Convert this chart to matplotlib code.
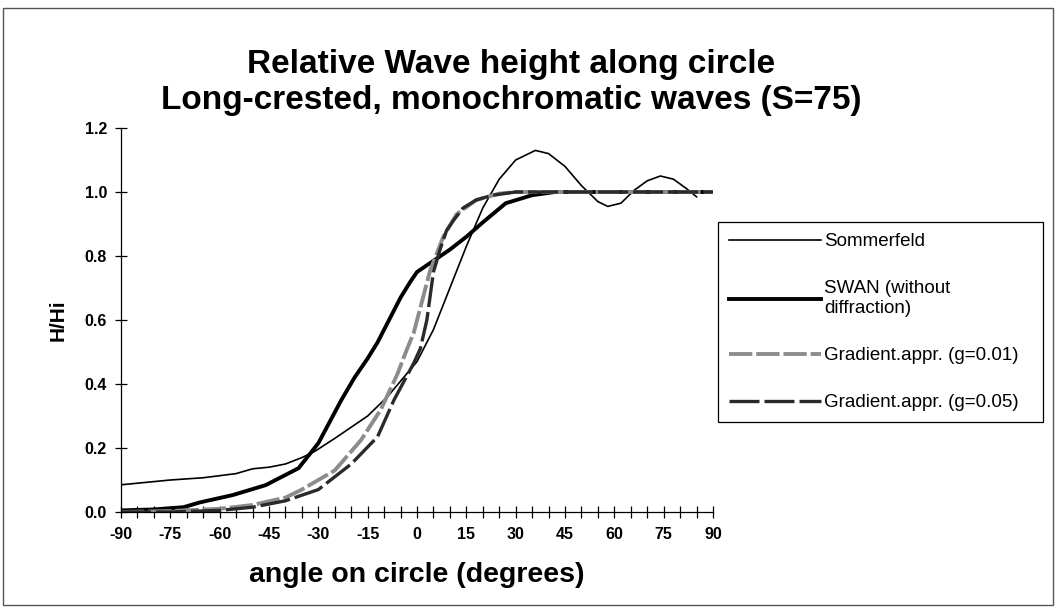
import matplotlib
matplotlib.use("Agg")
import matplotlib.pyplot as plt
from matplotlib.patches import Rectangle
from matplotlib.ticker import MultipleLocator, FormatStrFormatter

plt.rcParams['font.family'] = ['Liberation Sans', 'DejaVu Sans']
plt.rcParams['axes.unicode_minus'] = False

# Sommerfeld (analytisch)
som_x = [-90, -80, -75, -65, -55, -50, -45, -40, -35, -31, -25, -15, -9, 0, 5, 10, 15, 20,
         25, 30, 36, 40, 45, 50, 55, 58, 62, 66, 70, 74, 78, 82, 85]
som_y = [0.085, 0.095, 0.10, 0.107, 0.12, 0.135, 0.14, 0.15, 0.17, 0.19, 0.23, 0.30, 0.36, 0.47,
         0.57, 0.70, 0.83, 0.95, 1.04, 1.10, 1.13, 1.12, 1.08, 1.02, 0.97, 0.955, 0.965, 1.005,
         1.035, 1.05, 1.04, 1.01, 0.985]

# SWAN (without diffraction)
swan_x = [-90, -80, -71, -66, -56, -46, -36, -30, -23, -19, -15, -12, -8, -5, -2, 0, 5, 10,
          15, 20, 27, 35, 42, 90]
swan_y = [0.005, 0.008, 0.015, 0.03, 0.053, 0.084, 0.137, 0.215, 0.35, 0.42, 0.48, 0.53, 0.61,
          0.67, 0.72, 0.75, 0.785, 0.82, 0.86, 0.905, 0.965, 0.99, 1.0, 1.0]

# Gradient approx, g=0.01
g01_x = [-90, -75, -60, -50, -40, -35, -25, -17, -11, -6, -3, -1, 4, 8, 12, 18, 25, 30, 90]
g01_y = [0.0, 0.003, 0.01, 0.022, 0.045, 0.07, 0.13, 0.225, 0.32, 0.43, 0.51, 0.56, 0.755,
         0.86, 0.93, 0.975, 0.995, 1.0, 1.0]

# Gradient approx, g=0.05
g05_x = [-90, -75, -60, -50, -40, -30, -20, -12, -7, -1, 1, 3, 5, 7, 9, 11, 14, 18, 23, 30, 90]
g05_y = [0.0, 0.0, 0.005, 0.015, 0.035, 0.07, 0.15, 0.235, 0.35, 0.465, 0.51, 0.60, 0.75,
         0.82, 0.88, 0.91, 0.95, 0.975, 0.99, 1.0, 1.0]

W, H = 1057, 609
fig = plt.figure(figsize=(W / 100, H / 100), dpi=100)
ax = fig.add_axes([121 / W, 1 - 512 / H, (713 - 121) / W, (512 - 128) / H])

ax.plot(som_x, som_y, color='black', lw=1.2, label='Sommerfeld')
ax.plot(swan_x, swan_y, color='black', lw=2.8, label='SWAN (without\ndiffraction)')
ax.plot(g01_x, g01_y, color='#8c8c8c', lw=2.8, linestyle=(0, (6, 1)),
        label='Gradient.appr. (g=0.01)')
ax.plot(g05_x, g05_y, color='#2a2a2a', lw=2.4, linestyle=(0, (9, 1.5)),
        label='Gradient.appr. (g=0.05)')

ax.set_xlim(-90, 90)
ax.set_ylim(0, 1.2)
ax.xaxis.set_major_locator(MultipleLocator(15))
ax.xaxis.set_minor_locator(MultipleLocator(5))
ax.yaxis.set_major_locator(MultipleLocator(0.2))
ax.yaxis.set_major_formatter(FormatStrFormatter('%.1f'))
ax.tick_params(axis='both', which='both', direction='inout', width=0.9, colors='black')
ax.tick_params(axis='x', which='major', length=8, pad=7)
ax.tick_params(axis='x', which='minor', length=8)
ax.tick_params(axis='y', which='major', length=8, pad=6)
for lab in ax.get_xticklabels() + ax.get_yticklabels():
    lab.set_fontweight('bold')
    lab.set_fontsize(11.5)
for s in ['top', 'right']:
    ax.spines[s].set_visible(False)
for s in ['left', 'bottom']:
    ax.spines[s].set_linewidth(0.9)

ax.set_xlabel('angle on circle (degrees)', fontsize=20.5, fontweight='bold', labelpad=14)
ax.set_ylabel('H/Hi', fontsize=15, fontweight='bold', labelpad=12)

fig.text(511 / W, 1 - 64 / H, 'Relative Wave height along circle', ha='center', va='center',
         fontsize=24, fontweight='bold')
fig.text(511 / W, 1 - 100 / H, 'Long-crested, monochromatic waves (S=75)', ha='center',
         va='center', fontsize=24, fontweight='bold')

leg = fig.legend(loc='upper left',
                 bbox_to_anchor=(718 / W, 1 - 420 / H, (1043 - 718) / W, (420 - 222) / H),
                 mode='expand', borderaxespad=0, fancybox=False, edgecolor='black',
                 fontsize=13.5, handlelength=4.9, handletextpad=0.15, labelspacing=1.6,
                 borderpad=0.6, framealpha=1)
leg.get_frame().set_linewidth(0.9)

fig.patches.append(Rectangle((3 / W, 4 / H), (1053 - 3) / W, (601 - 4) / H,
                             transform=fig.transFigure, fill=False, edgecolor='#555555',
                             lw=1))

fig.savefig('out.png', dpi=100)
